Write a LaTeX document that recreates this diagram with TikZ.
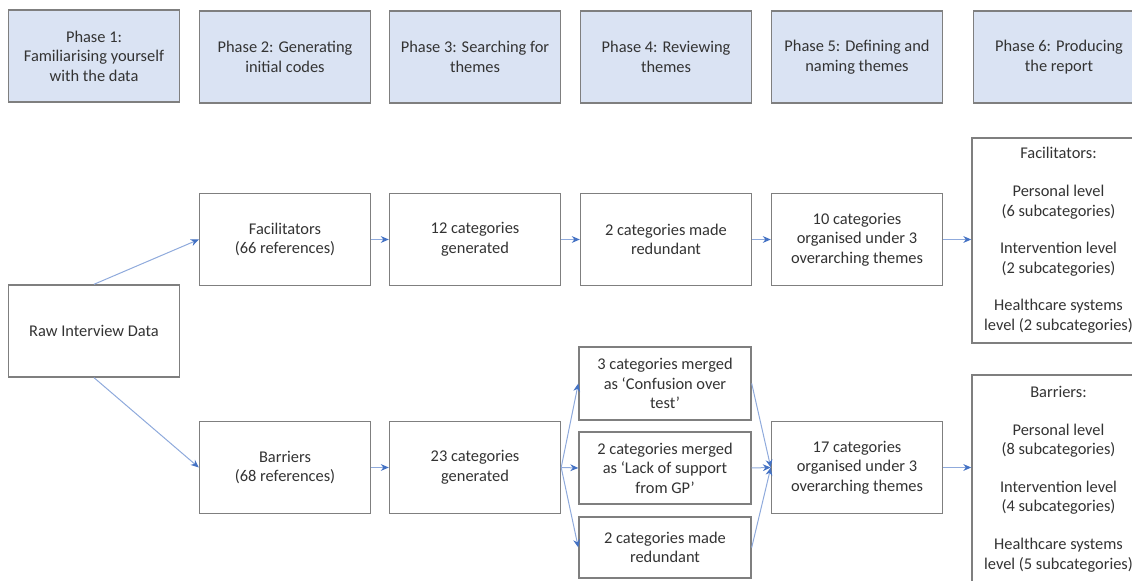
\documentclass[tikz,border=0pt]{standalone}
\usepackage{fontspec}
\setmainfont{Carlito}
\usepackage{tikz}
\usetikzlibrary{arrows.meta}

\definecolor{phasefill}{HTML}{DAE3F3}
\definecolor{boxline}{HTML}{7F7F7F}
\definecolor{linkline}{HTML}{8FAADC}
\definecolor{linktip}{HTML}{4472C4}
\definecolor{textgrey}{HTML}{333333}

\begin{document}
\begin{tikzpicture}[x=0.5pt,y=-0.5pt,
  step_node/.style={draw=boxline,fill=white,line width=0.7pt,text=textgrey,align=center,
    font=\fontsize{8.2}{9.8}\selectfont,inner sep=2pt,minimum width=85.5pt,minimum height=46pt},
  phase_node/.style={step_node,fill=phasefill},
  link/.style={draw=linkline,line width=0.5pt,-{Stealth[length=4pt,width=3.4pt,color=linktip]}}]

    \useasboundingbox (0,0) rectangle (1132,581);
    \clip (0,0) rectangle (1132,581);

    % phases
    \node[phase_node] (p1) at (94,56)   {Phase 1:\\Familiarising yourself\\with the data};
    \node[phase_node] (p2) at (285,57)  {Phase 2: Generating\\initial codes};
    \node[phase_node] (p3) at (475,57)  {Phase 3: Searching for\\themes};
    \node[phase_node] (p4) at (666,57)  {Phase 4: Reviewing\\themes};
    \node[phase_node] (p5) at (857,57)  {Phase 5: Defining and\\naming themes};
    \node[phase_node] (p6) at (1059,57) {Phase 6: Producing\\the report};

    \node[step_node] (raw) at (94,331) {Raw Interview Data};

    % facilitators
    \node[step_node] (fac)     at (285,239.5) {Facilitators\\(66 references)};
    \node[step_node] (fac_gen) at (475,239.5) {12 categories\\generated};
    \node[step_node] (fac_red) at (666,239.5) {2 categories made\\redundant};
    \node[step_node] (fac_org) at (857,239.5) {10 categories\\organised under 3\\overarching themes};
    \node[step_node,minimum width=86.5pt,minimum height=102.5pt] (fac_rep) at (1058.5,240.5)
      {Facilitators:\\[9pt]Personal level\\(6 subcategories)\\[9pt]Intervention level\\(2 subcategories)\\[9pt]Healthcare systems\\level (2 subcategories)};

    % barriers
    \node[step_node] (bar)     at (285,467.5) {Barriers\\(68 references)};
    \node[step_node] (bar_gen) at (475,467.5) {23 categories\\generated};
    \node[step_node,minimum width=86pt,minimum height=36.5pt] (bar_m1) at (665,383.5) {3 categories merged\\as ‘Confusion over\\test’};
    \node[step_node,minimum width=86pt,minimum height=36pt] (bar_m2) at (665,468) {2 categories merged\\as ‘Lack of support\\from GP’};
    \node[step_node,minimum width=86pt,minimum height=30.5pt] (bar_red) at (665,547.5) {2 categories made\\redundant};
    \node[step_node] (bar_org) at (857,467.5) {17 categories\\organised under 3\\overarching themes};
    \node[step_node,minimum width=86.5pt,minimum height=104pt] (bar_rep) at (1058.5,479)
      {Barriers:\\[9pt]Personal level\\(8 subcategories)\\[9pt]Intervention level\\(4 subcategories)\\[9pt]Healthcare systems\\level (5 subcategories)};

  \path[every edge/.style={link}]
    (raw.north) edge (fac.west)
    (raw.south) edge (bar.west)
    (fac.east) edge (fac_gen.west)
    (fac_gen.east) edge (fac_red.west)
    (fac_red.east) edge (fac_org.west)
    (fac_org.east) edge (fac_rep.west |- fac_org.east)
    (bar.east) edge (bar_gen.west)
    (bar_gen.east) edge (bar_m1.west)
    (bar_gen.east) edge (bar_m2.west)
    (bar_gen.east) edge (bar_red.west)
    (bar_m1.east) edge (bar_org.west)
    (bar_m2.east) edge (bar_org.west)
    (bar_red.east) edge (bar_org.west)
    (bar_org.east) edge (bar_rep.west |- bar_org.east);

\end{tikzpicture}
\end{document}
